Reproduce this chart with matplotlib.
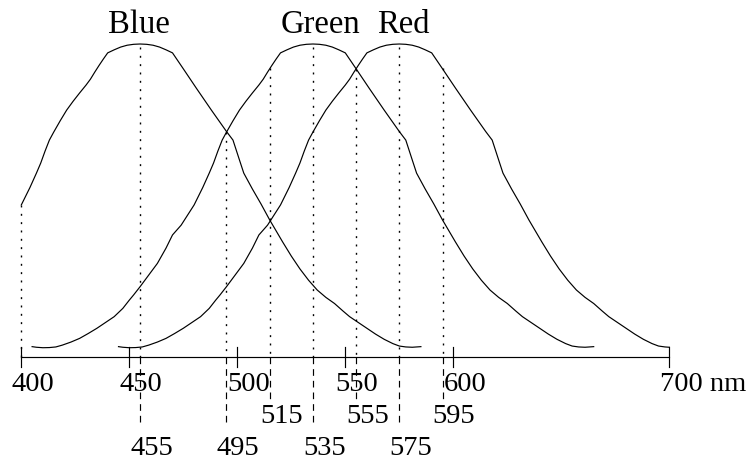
"""
Cone sensitivity sketch: Blue / Green / Red response curves over 400-700 nm,
with dotted guides at peaks and crossings and their wavelengths below the axis.
"""

import matplotlib
matplotlib.use("Agg")
import matplotlib.pyplot as plt

plt.rcParams["font.family"] = ["Liberation Serif", "DejaVu Serif"]
plt.rcParams["lines.scale_dashes"] = False

FONT_SIZE = 20.5
NAME_SIZE = 23.5
OUT_PATH = "out.png"

# relative sensitivity (peak = 1)
BLUE_NM = [400, 404, 407, 409, 411, 413, 415, 418, 421, 424, 427, 430, 432, 434, 436, 438,
           440, 443, 446, 449, 452, 455,
           458, 461, 464, 467, 470, 475, 481, 488, 495, 498, 501, 503, 507, 511, 515,
           521, 525, 529, 533, 537, 541, 545, 549, 552, 556, 560, 564, 568, 572, 575,
           578, 581, 585]
BLUE_VAL = [0.474, 0.531, 0.578, 0.611, 0.650, 0.686, 0.712, 0.749, 0.784, 0.813, 0.840, 0.866,
            0.885, 0.908, 0.930, 0.951, 0.971, 0.981, 0.990, 0.996, 0.999, 1.0,
            0.999, 0.996, 0.990, 0.981, 0.971, 0.919, 0.856, 0.784, 0.714, 0.686, 0.621, 0.578,
            0.526, 0.477, 0.425, 0.353, 0.307, 0.265, 0.228, 0.196, 0.172, 0.152, 0.127, 0.109,
            0.090, 0.071, 0.052, 0.035, 0.021, 0.013, 0.010, 0.009, 0.011]

GREEN_NM = [405, 407, 410, 413, 416, 419, 423, 427, 431, 435, 439, 443, 447, 450, 452, 455,
            459, 463, 467, 470, 474, 477, 480, 484, 487, 489, 491, 493, 495, 498, 501, 504,
            507, 510, 512, 514, 516, 518, 520, 523, 526, 529, 532, 535,
            538, 541, 544, 547, 550, 555, 561, 568, 575, 578, 581, 583, 587, 591, 595,
            601, 605, 609, 613, 617, 621, 625, 629, 632, 636, 640, 644, 648, 652, 655,
            658, 661, 665]
GREEN_VAL = [0.011, 0.009, 0.0075, 0.008, 0.010, 0.016, 0.026, 0.038, 0.054, 0.071, 0.090, 0.109,
             0.136, 0.163, 0.180, 0.207, 0.245, 0.283, 0.333, 0.376, 0.408, 0.441, 0.474, 0.531,
             0.578, 0.611, 0.650, 0.686, 0.712, 0.749, 0.784, 0.813, 0.840, 0.866, 0.885, 0.908,
             0.930, 0.951, 0.971, 0.981, 0.990, 0.996, 0.999, 1.0,
             0.999, 0.996, 0.990, 0.981, 0.971, 0.919, 0.856, 0.784, 0.714, 0.686, 0.621, 0.578,
             0.526, 0.477, 0.425, 0.353, 0.307, 0.265, 0.228, 0.196, 0.172, 0.152, 0.127, 0.109,
             0.090, 0.071, 0.052, 0.035, 0.021, 0.013, 0.010, 0.009, 0.011]

RED_NM = [445, 447, 450, 453, 456, 459, 463, 467, 471, 475, 479, 483, 487, 490, 492, 495,
          499, 503, 507, 510, 514, 517, 520, 524, 527, 529, 531, 533, 535, 538, 541, 544,
          547, 550, 552, 554, 556, 558, 560, 563, 566, 569, 572, 575,
          578, 581, 584, 587, 590, 595, 601, 608, 615, 618, 621, 623, 627, 631, 635,
          641, 645, 649, 653, 657, 661, 665, 669, 672, 676, 680, 684, 688, 692, 695,
          698, 700]
RED_VAL = [0.011, 0.009, 0.0075, 0.008, 0.010, 0.016, 0.026, 0.038, 0.054, 0.071, 0.090, 0.109,
           0.136, 0.163, 0.180, 0.207, 0.245, 0.283, 0.333, 0.376, 0.408, 0.441, 0.474, 0.531,
           0.578, 0.611, 0.650, 0.686, 0.712, 0.749, 0.784, 0.813, 0.840, 0.866, 0.885, 0.908,
           0.930, 0.951, 0.971, 0.981, 0.990, 0.996, 0.999, 1.0,
           0.999, 0.996, 0.990, 0.981, 0.971, 0.919, 0.856, 0.784, 0.714, 0.686, 0.621, 0.578,
           0.526, 0.477, 0.425, 0.353, 0.307, 0.265, 0.228, 0.196, 0.172, 0.152, 0.127, 0.109,
           0.090, 0.071, 0.052, 0.035, 0.021, 0.013, 0.010, 0.009]

CURVE_NAMES = ["Blue", "Green", "Red"]
NAME_X = [440.2, 520.2, 564.6]          # left edge of each name

AXIS_TICKS = [400, 450, 500, 550, 600, 700]
AXIS_LABELS = ["400", "450", "500", "550", "600", "700 nm"]

GUIDE_NM = [400, 455, 495, 515, 535, 555, 575, 595]
GUIDE_TOP = [0.474, 0.99, 0.712, 0.92, 0.99, 0.918, 0.99, 0.92]
GUIDE_ROW = [0, 2, 2, 1, 2, 1, 2, 1]    # 0 = no label, 1 = upper row, 2 = lower row

AXIS_Y = -0.023
TICK_TOP, TICK_BOT = 0.0098, -0.0556
ROW_BASE = {0: -0.134, 1: -0.2386, 2: -0.343}
ROW_DASH_END = {1: -0.160, 2: -0.242}
LABEL_SHIFT = 4.5  # labels start slightly left of their position


def main() -> None:
    fig = plt.figure(figsize=(7.47, 4.61), dpi=100)
    ax = fig.add_axes([0, 0, 1, 1])
    ax.set_xlim(390.14, 735.97)
    ax.set_ylim(-0.3627, 1.1438)
    ax.axis("off")

    for xs, ys in [(BLUE_NM, BLUE_VAL), (GREEN_NM, GREEN_VAL), (RED_NM, RED_VAL)]:
        ax.plot(xs, ys, color="black", lw=0.85, solid_joinstyle="round")

    for name, x in zip(CURVE_NAMES, NAME_X):
        ax.text(x, 1.037, name, ha="left", va="baseline", fontsize=NAME_SIZE)

    # wavelength axis
    ax.plot([AXIS_TICKS[0], AXIS_TICKS[-1]], [AXIS_Y, AXIS_Y], color="black", lw=0.85)
    for t, lab in zip(AXIS_TICKS, AXIS_LABELS):
        ax.plot([t, t], [TICK_TOP, TICK_BOT], color="black", lw=0.85)
        ax.text(t - LABEL_SHIFT, ROW_BASE[0], lab, ha="left", va="baseline", fontsize=FONT_SIZE)

    # guides: dotted above the axis, dashed below it down to the label
    for x, top, row in zip(GUIDE_NM, GUIDE_TOP, GUIDE_ROW):
        ax.plot([x, x], [top, AXIS_Y], color="black", lw=1.0, dashes=(1.4, 4.6))
        if row:
            ax.plot([x, x], [AXIS_Y, ROW_DASH_END[row]], color="black", lw=0.85, dashes=(4.8, 3.6))
            ax.text(x - LABEL_SHIFT, ROW_BASE[row], str(x), ha="left", va="baseline",
                    fontsize=FONT_SIZE)

    fig.savefig(OUT_PATH, dpi=100)
    plt.close(fig)


if __name__ == "__main__":
    main()
